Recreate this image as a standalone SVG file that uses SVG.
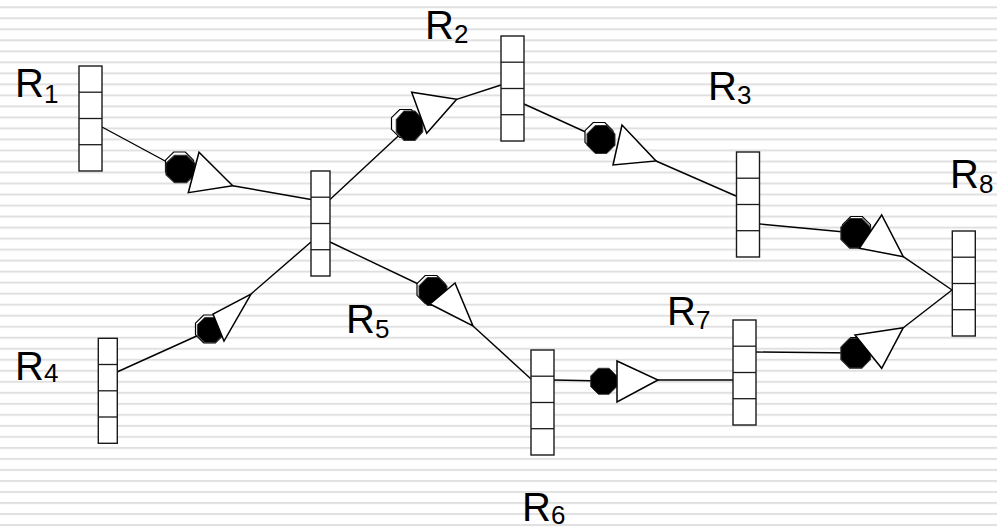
<svg xmlns="http://www.w3.org/2000/svg" xmlns:xlink="http://www.w3.org/1999/xlink" width="997" height="529" viewBox="0 0 997 529">
  <style>
    .router { fill: #ffffff; stroke: #1a1a1a; stroke-width: 1.4; }
    .cell { stroke: #1a1a1a; stroke-width: 1.3; }
    .link { stroke: #000000; stroke-width: 1.4; fill: none; }
    .tri { fill: #ffffff; stroke: #000000; stroke-width: 1.5; stroke-linejoin: miter; }
    .queue { fill: #000000; stroke: #333333; stroke-width: 1; }
    .queue-edge { fill: #ffffff; stroke: #000000; stroke-width: 1.2; }
    .lbl { font-family: "Liberation Sans", Arial, sans-serif; font-size: 40px; fill: #000000; }
    .sub { font-size: 26px; }
  </style>
  <defs>
    <pattern id="stripes" patternUnits="userSpaceOnUse" width="997" height="11.015" y="6.3">
      <rect x="0" y="0" width="997" height="2" fill="#e0e0e0"/>
    </pattern>
    <!-- flat-topped octagon, 28px across the flats -->
    <polygon id="oct" points="14,5.8 5.8,14 -5.8,14 -14,5.8 -14,-5.8 -5.8,-14 5.8,-14 14,-5.8"/>
    <!-- router: tall box split in four cells -->
    <g id="cells23">
      <rect class="router" x="0" y="0" width="23" height="105"/>
      <line class="cell" x1="0" y1="26.2" x2="23" y2="26.2"/>
      <line class="cell" x1="0" y1="52.5" x2="23" y2="52.5"/>
      <line class="cell" x1="0" y1="78.7" x2="23" y2="78.7"/>
    </g>
    <g id="cells19">
      <rect class="router" x="0" y="0" width="19" height="105"/>
      <line class="cell" x1="0" y1="26.2" x2="19" y2="26.2"/>
      <line class="cell" x1="0" y1="52.5" x2="19" y2="52.5"/>
      <line class="cell" x1="0" y1="78.7" x2="19" y2="78.7"/>
    </g>
  </defs>

  <rect x="0" y="0" width="997" height="529" fill="#ffffff"/>
  <rect x="0" y="0" width="997" height="529" fill="url(#stripes)"/>

  <!-- links between routers -->
  <g id="connectors">
    <line class="link" x1="102" y1="127" x2="180" y2="169"/>
    <line class="link" x1="232.7" y1="185.7" x2="311" y2="199.5"/>
    <line class="link" x1="330" y1="199.5" x2="409" y2="126"/>
    <line class="link" x1="456.7" y1="99.3" x2="501" y2="85"/>
    <line class="link" x1="524" y1="104" x2="601" y2="139"/>
    <line class="link" x1="656" y1="161" x2="736" y2="196"/>
    <line class="link" x1="760" y1="224" x2="855" y2="233"/>
    <line class="link" x1="903.3" y1="256.7" x2="952" y2="290"/>
    <line class="link" x1="755" y1="352" x2="855" y2="353"/>
    <line class="link" x1="903.3" y1="327.7" x2="952" y2="290"/>
    <line class="link" x1="117" y1="372" x2="210" y2="330"/>
    <line class="link" x1="251" y1="294" x2="311" y2="242"/>
    <line class="link" x1="330" y1="242" x2="433" y2="291"/>
    <line class="link" x1="473" y1="326" x2="531" y2="379"/>
    <line class="link" x1="553" y1="380" x2="604" y2="381"/>
    <line class="link" x1="658" y1="380" x2="733" y2="380"/>

    <!-- queues (octagons) -->
    <use href="#oct" class="queue-edge" transform="translate(179.5,166)"/>
    <use href="#oct" class="queue" transform="translate(180.5,169) scale(1.04,0.98)"/>
    <use href="#oct" class="queue-edge" transform="translate(405.5,123.5)"/>
    <use href="#oct" class="queue" transform="translate(409.5,125.7) scale(0.95,1.05)"/>
    <use href="#oct" class="queue-edge" transform="translate(599,136.5)"/>
    <use href="#oct" class="queue" transform="translate(601,139.5)"/>
    <use href="#oct" class="queue-edge" transform="translate(856.5,230.5)"/>
    <use href="#oct" class="queue" transform="translate(855.7,233.3) scale(1.06)"/>
    <use href="#oct" class="queue-edge" transform="translate(856.5,351.5)"/>
    <use href="#oct" class="queue" transform="translate(855.7,353.3) scale(1.06)"/>
    <use href="#oct" class="queue-edge" transform="translate(209.5,329)"/>
    <use href="#oct" class="queue" transform="translate(210,330) scale(0.9)"/>
    <use href="#oct" class="queue-edge" transform="translate(431,289.5)"/>
    <use href="#oct" class="queue" transform="translate(433,291.5)"/>
    <use href="#oct" class="queue" transform="translate(603.7,381.3) scale(0.93)"/>

    <!-- transmitters (triangles) -->
    <polygon class="tri" points="199,152.3 188.3,192.7 232.7,185.7"/>
    <polygon class="tri" points="411.7,92.3 426.7,133.3 456.7,99.3"/>
    <polygon class="tri" points="622,125 613,165 656,161"/>
    <polygon class="tri" points="881.7,215 859.3,248.3 903.3,256.7"/>
    <polygon class="tri" points="855,335 881.7,368.3 903.3,327.7"/>
    <polygon class="tri" points="213,314 224,341 251,294"/>
    <polygon class="tri" points="455,283 430,304 473,326"/>
    <polygon class="tri" points="617,361 617,402 658,380"/>
  </g>

  <!-- routers -->
  <g id="R1"><use href="#cells23" x="79" y="66"/></g>
  <g id="Rc"><use href="#cells19" x="311" y="171"/></g>
  <g id="R2"><use href="#cells23" x="501" y="36"/></g>
  <g id="R3"><use href="#cells23" x="736.5" y="152"/></g>
  <g id="R8"><use href="#cells23" x="952.3" y="231"/></g>
  <g id="R4"><use href="#cells19" x="98.3" y="338.3"/></g>
  <g id="R6"><use href="#cells23" x="531" y="350"/></g>
  <g id="R7"><use href="#cells23" x="733" y="320"/></g>

  <!-- router labels -->
  <g id="labels">
    <text class="lbl" x="15" y="97">R<tspan class="sub" dy="6">1</tspan></text>
    <text class="lbl" x="425" y="39">R<tspan class="sub" dy="4">2</tspan></text>
    <text class="lbl" x="708" y="100">R<tspan class="sub" dy="4">3</tspan></text>
    <text class="lbl" x="950" y="188">R<tspan class="sub" dy="5">8</tspan></text>
    <text class="lbl" x="15" y="380">R<tspan class="sub" dy="2">4</tspan></text>
    <text class="lbl" x="346" y="333">R<tspan class="sub" dy="5">5</tspan></text>
    <text class="lbl" x="522" y="521">R<tspan class="sub" dy="3">6</tspan></text>
    <text class="lbl" x="667" y="325">R<tspan class="sub" dy="4">7</tspan></text>
  </g>
</svg>
